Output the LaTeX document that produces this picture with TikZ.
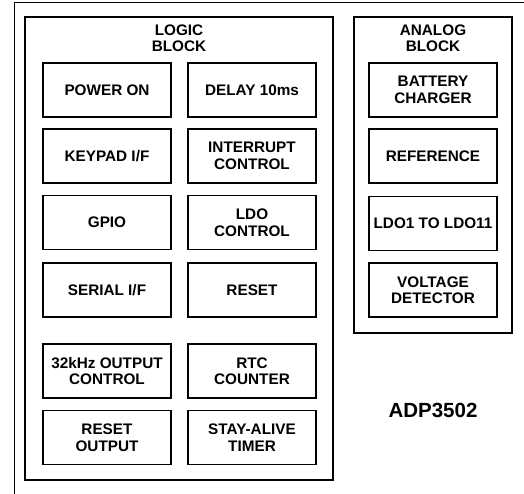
\documentclass[tikz,border=0pt]{standalone}
\usepackage{fontspec}
\setmainfont{Liberation Sans}

\begin{document}
\begin{tikzpicture}[x=1pt,y=-1pt,every text node part/.style={align=center},every node/.style={font=\fontsize{15.3}{16.5}\selectfont\bfseries,inner sep=0pt},blk/.style={draw,line width=1.5pt,minimum width=128pt,minimum height=54pt}]

\useasboundingbox(0,0)rectangle(524,494);

\draw[line width=1pt](14,494)--(14,3)--(524,3);

\draw[line width=1.5pt](25,17)--(333,17)--(333,480)--(25,480)--cycle;
\draw[line width=1.5pt](354,17)--(512,17)--(512,333)--(354,333)--cycle;

\draw(179,38)node(logic){LOGIC\\BLOCK};
\draw(433,38)node(analog){ANALOG\\BLOCK};

\draw(107,90)node[blk](pwron){POWER ON};
\draw(252,90)node[blk](delay){DELAY 10ms};
\draw(107,156)node[blk](keypad){KEYPAD I/F};
\draw(252,156)node[blk](irq){INTERRUPT\\CONTROL};
\draw(107,222.5)node[blk](gpio){GPIO};
\draw(252,222.5)node[blk](ldoctl){LDO\\CONTROL};
\draw(107,290)node[blk](serial){SERIAL I/F};
\draw(252,290)node[blk](reset){RESET};
\draw(107,371)node[blk](clkout){32kHz OUTPUT\\CONTROL};
\draw(252,371)node[blk](rtc){RTC\\COUNTER};
\draw(107,437.5)node[blk](rstout){RESET\\OUTPUT};
\draw(252,437.5)node[blk](stay){STAY-ALIVE\\TIMER};

\draw(433,90)node[blk](charger){BATTERY\\CHARGER};
\draw(433,156)node[blk](ref){REFERENCE};
\draw(433,223.5)node[blk](ldo){LDO1 TO LDO11};
\draw(433,290)node[blk](vdet){VOLTAGE\\DETECTOR};

\draw(433,410.5)node[font=\fontsize{20.5}{24}\selectfont\bfseries](chip){ADP3502};

\end{tikzpicture}
\end{document}
